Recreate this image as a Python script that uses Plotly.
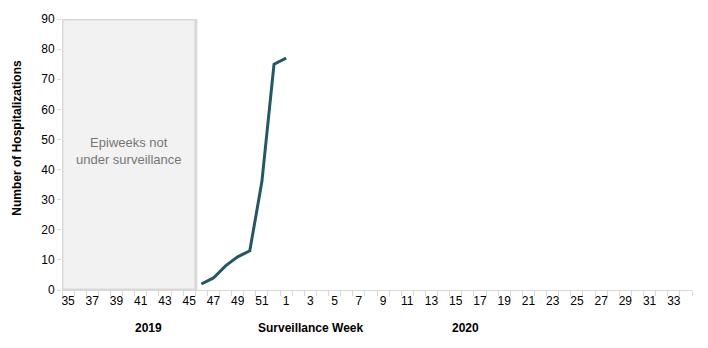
import plotly.graph_objects as go

# Surveillance weeks: 2019 weeks 35-52, then 2020 weeks 1-34
weeks_2019 = [str(w) for w in range(35, 53)]
weeks_2020 = [str(w) for w in range(1, 35)]
weeks = weeks_2019 + weeks_2020

# Hospitalizations per week
data_weeks = ["46", "47", "48", "49", "50", "51", "52", "1"]
hospitalizations = [2, 4, 8, 11, 13, 36, 75, 77]

# Weeks not under surveillance
unsurveilled_start = "35"
unsurveilled_end = "45"

tick_labels = weeks[::2]

x_idx = [weeks.index(w) for w in data_weeks]
font_family = "Liberation Sans, Arial, sans-serif"

fig = go.Figure()
fig.add_trace(go.Scatter(
    x=x_idx, y=hospitalizations, mode="lines",
    line=dict(color="#245864", width=3),
    hoverinfo="skip", showlegend=False,
))

fig.add_shape(type="rect", xref="x", yref="y",
              x0=weeks.index(unsurveilled_start) - 0.5,
              x1=weeks.index(unsurveilled_end) + 0.55,
              y0=0, y1=90, fillcolor="#f2f2f2",
              line=dict(color="#d9d9d9", width=3), layer="below")

fig.add_annotation(x=(weeks.index(unsurveilled_start) + weeks.index(unsurveilled_end)) / 2,
                   y=46, xref="x", yref="y",
                   text="Epiweeks not<br>under surveillance", showarrow=False,
                   font=dict(family=font_family, size=13, color="#767676"))

label_y = dict(y=0, yref="paper", yanchor="middle", yshift=-38, showarrow=False,
               font=dict(family=font_family, size=12, color="#000000"))
fig.add_annotation(x=6.6, xref="x", text="<b>2019</b>", **label_y)
fig.add_annotation(x=20.0, xref="x", text="<b>Surveillance Week</b>", **label_y)
fig.add_annotation(x=32.8, xref="x", text="<b>2020</b>", **label_y)

# y-axis title
fig.add_annotation(x=0, xref="paper", xanchor="center", xshift=-45,
                   y=0.562, yref="paper", yanchor="middle",
                   text="<b>Number of Hospitalizations</b>", textangle=-90,
                   showarrow=False,
                   font=dict(family=font_family, size=12, color="#000000"))

fig.update_layout(
    width=708, height=348,
    margin=dict(l=62, r=16, t=16, b=58),
    paper_bgcolor="white", plot_bgcolor="white",
    font=dict(family=font_family, size=12, color="#000000"),
    xaxis=dict(
        range=[-0.5, len(weeks) - 0.5],
        tickmode="array",
        tickvals=[weeks.index(t) for t in tick_labels],
        ticktext=tick_labels,
        ticks="", showgrid=False, zeroline=False,
        showline=True, linecolor="#d9d9d9", linewidth=1,
        tickfont=dict(size=12, color="#000000"),
        minor=dict(tickmode="linear", tick0=-0.5, dtick=1, ticks="outside",
                   ticklen=5, tickcolor="#d9d9d9", tickwidth=1, showgrid=False),
    ),
    yaxis=dict(
        range=[0, 90], dtick=10, tick0=0,
        ticks="outside", ticklen=4, tickcolor="#d9d9d9",
        showgrid=False, zeroline=False, showline=False,
        tickfont=dict(size=12, color="#000000"),
    ),
)

fig.write_html("out.html")
